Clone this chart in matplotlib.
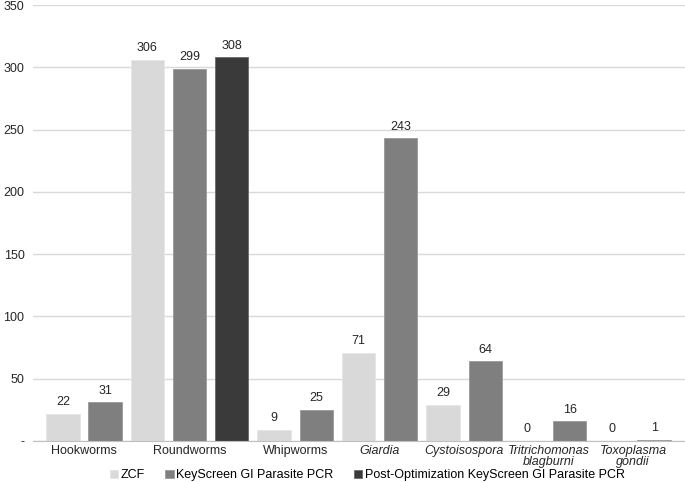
import matplotlib.pyplot as plt

plt.rcParams['font.family'] = ['Liberation Sans', 'DejaVu Sans']

# data
categories = ['Hookworms', 'Roundworms', 'Whipworms', 'Giardia', 'Cystoisospora',
              'Tritrichomonas\nblagburni', 'Toxoplasma\ngondii']
italic_cats = [False, False, False, True, True, True, True]
series_names = ['ZCF', 'KeyScreen GI Parasite PCR',
                'Post-Optimization KeyScreen GI Parasite PCR']
zcf = [22, 306, 9, 71, 29, 0, 0]
keyscreen = [31, 299, 25, 243, 64, 16, 1]
post_opt = [None, 308, None, None, None, None, None]
colors = ['#d9d9d9', '#7f7f7f', '#3a3a3a']
edges = ['#e6e6e6', '#9a9a9a', '#6a6a6a']
fs = 9

fig = plt.figure(figsize=(6.85, 4.82), dpi=100)
ax = fig.add_axes([0.048, 0.085, 0.952, 0.9045])

# bars are placed in consecutive slots, empty series take no slot
slot = 0
group_centers = []
handles = [None, None, None]
for i, cat in enumerate(categories):
    start = slot
    for s, vals in enumerate([zcf, keyscreen, post_opt]):
        v = vals[i]
        if v is None:
            continue
        b = ax.bar(slot, v, width=0.79, color=colors[s], edgecolor=edges[s],
                   linewidth=0.6, zorder=3, label=series_names[s])
        handles[s] = b
        ax.annotate(str(v), (slot, v), xytext=(0, 4), textcoords='offset points',
                    ha='center', va='bottom', fontsize=fs, color='#262626')
        slot += 1
    group_centers.append((start + slot - 1) / 2)

ax.set_xlim(-0.71, slot - 1 + 0.73)
ax.set_ylim(0, 350)
ax.set_yticks(range(0, 351, 50))
ax.set_yticklabels(['-'] + [str(v) for v in range(50, 351, 50)])
ax.yaxis.grid(True, color='#d9d9d9', linewidth=1, zorder=0)
ax.set_axisbelow(True)
for side in ['top', 'right', 'left']:
    ax.spines[side].set_visible(False)
ax.spines['bottom'].set_color('#bfbfbf')
ax.spines['bottom'].set_zorder(4)
ax.tick_params(axis='y', length=0, pad=6, labelsize=fs, labelcolor='#262626')
ax.set_xticks(group_centers)
ax.set_xticklabels(categories, fontsize=fs, color='#262626', linespacing=0.85)
ax.tick_params(axis='x', length=0, pad=3)
for lab, it in zip(ax.get_xticklabels(), italic_cats):
    if it:
        lab.set_style('italic')

fig.legend(handles, series_names, loc='center', bbox_to_anchor=(0.536, 0.014),
           ncol=3, frameon=False, fontsize=fs, handlelength=0.7, handleheight=0.7,
           handletextpad=0.2, columnspacing=1.6)

fig.savefig('out.png', dpi=100)
